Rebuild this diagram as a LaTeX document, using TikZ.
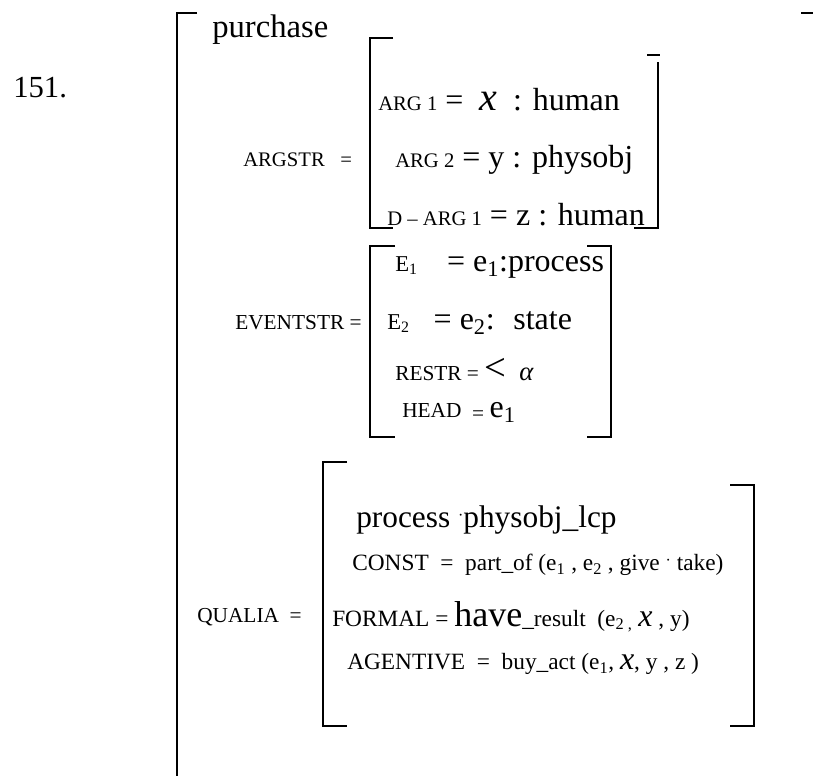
\documentclass[tikz,border=0pt]{standalone}
\usepackage{fontspec}
\setmainfont{Liberation Serif}
\newcommand{\fsz}[2]{{\fontsize{#1}{#1}\selectfont #2}}
\newcommand{\updot}{\raisebox{0.5ex}{\fsz{12}{·}}}

\begin{document}
\begin{tikzpicture}[x=0.75pt,y=-0.75pt,
  brk/.style={line width=1.1pt},
  lbl/.style={anchor=west,inner sep=0pt}]

\useasboundingbox (0,0) rectangle (814,776);

% number and head
\draw(13,88) node[lbl] (num) {\fsz{23}{151.}};
\draw(212,30) node[lbl] (head) {\fsz{24.5}{purchase}};

% outer bracket
\draw[brk] (197,13) -- (177,13) -- (177,776);
\draw[brk] (801,13) -- (813,13);

% argstr
\draw(243,160) node[lbl] (argstr) {\fsz{15.5}{ARGSTR \ \ =}};
\draw(378,100) node[lbl] (arg1) {\fsz{15.5}{ARG 1}\fsz{24}{ = \ \fsz{30}{\textit{x}} \ : human}};
\draw(395,160) node[lbl] (arg2) {\fsz{15.5}{ARG 2}\fsz{24}{ = y : physobj}};
\draw(387,215) node[lbl] (darg) {\fsz{15.5}{D -- ARG 1}\fsz{24}{ = z : human}};
\draw[brk] (393,38) -- (370,38) -- (370,228) -- (393,228);
\draw[brk] (647,55) -- (660,55);
\draw[brk] (658,62) -- (658,228) -- (634,228);

% eventstr
\draw(235,323) node[lbl] (eventstr) {\fsz{16}{EVENTSTR =}};
\draw(395,267) node[lbl] (ev1) {\fsz{17}{E\textsubscript{1}}\fsz{24}{ \ \ \,= e\textsubscript{1}:process}};
\draw(387,323) node[lbl] (ev2) {\fsz{17}{E\textsubscript{2}}\fsz{24}{ \ \ = e\textsubscript{2}: \ state}};
\draw(395,370) node[lbl] (restr) {\fsz{16}{RESTR = }\fsz{29}{<}\fsz{20}{\ \ \textit{α}}};
\draw(402,412) node[lbl] (hd) {\fsz{16}{HEAD \ \raisebox{-0.35ex}{=} }\fsz{24}{e\textsubscript{1}}};
\draw[brk] (395,246) -- (370,246) -- (370,437) -- (395,437);
\draw[brk] (587,246) -- (611,246) -- (611,437) -- (587,437);

% qualia
\draw(197,617) node[lbl] (qualia) {\fsz{16}{QUALIA \ =}};
\draw(356,520) node[lbl] (lcp) {\fsz{23.5}{process \updot physobj\_lcp}};
\draw(352,565) node[lbl] (const) {\fsz{17.5}{CONST \ = \ part\_of (e\textsubscript{1} , e\textsubscript{2} , give \updot\ take)}};
\draw(332,617) node[lbl] (formal) {\fsz{17.5}{FORMAL = \fsz{27}{have}\_result \ (e\textsubscript{2 ,} \fsz{24}{\textit{x}} , y)}};
\draw(347,664) node[lbl] (agent) {\fsz{17.5}{AGENTIVE \ = \ buy\_act (e\textsubscript{1}, \fsz{24}{\textit{x}}, y , z )}};
\draw[brk] (347,462) -- (323,462) -- (323,726) -- (347,726);
\draw[brk] (730,485) -- (754,485) -- (754,726) -- (730,726);

\end{tikzpicture}
\end{document}
